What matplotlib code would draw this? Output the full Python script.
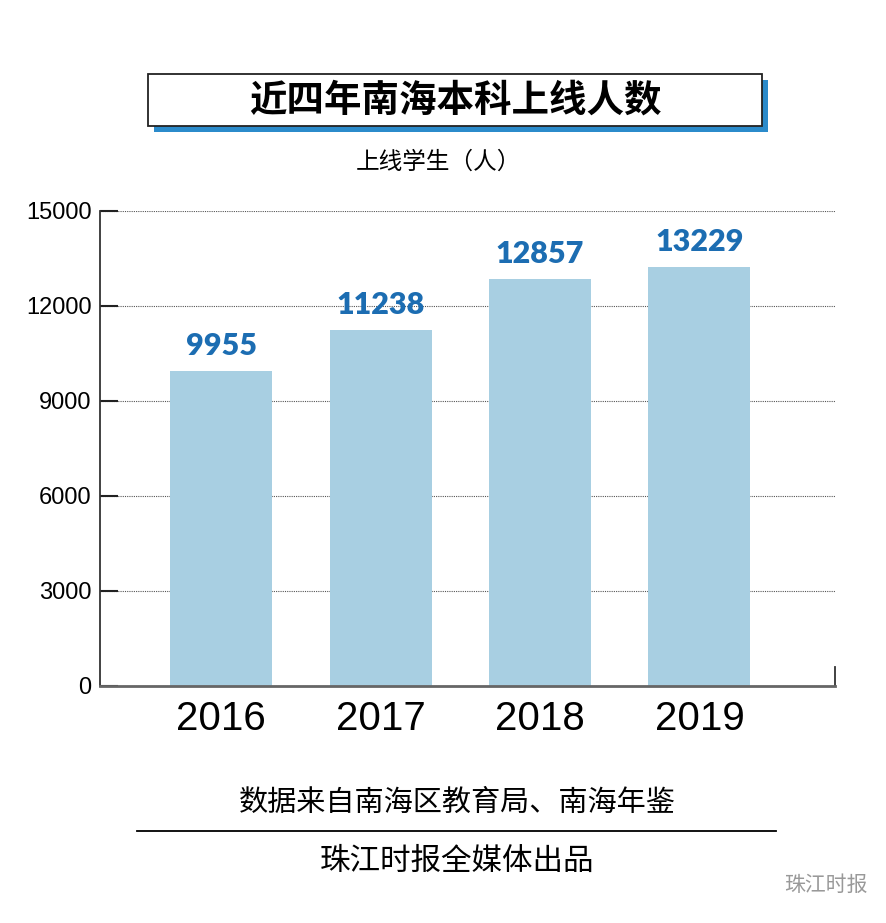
import matplotlib.pyplot as plt
from matplotlib.patches import Rectangle

# 数据
years = ['2016', '2017', '2018', '2019']
counts = [9955, 11238, 12857, 13229]
yticks = [0, 3000, 6000, 9000, 12000, 15000]

plt.rcParams['font.family'] = ['Liberation Sans', 'Noto Sans CJK SC', 'DejaVu Sans']
cjk = ['Noto Sans CJK SC', 'DejaVu Sans']

fig = plt.figure(figsize=(8.86, 9.23), dpi=100)
ax = fig.add_axes([0.1129, 0.2568, 0.8295, 0.5146])

x = range(len(years))
bars = ax.bar(x, counts, width=0.64, color='#a8cfe2', zorder=2)

for b, v in zip(bars, counts):
    ax.annotate(str(v), (b.get_x() + b.get_width() / 2, v),
                xytext=(0, 8), textcoords='offset points',
                ha='center', va='bottom', fontsize=22, fontweight='heavy',
                color='#1c6db2', family=['Lato', 'DejaVu Sans'])

ax.set_xlim(-0.76, 3.85)
ax.set_ylim(0, 15000)
ax.set_yticks(yticks)
ax.set_yticklabels([str(t) for t in yticks], fontsize=17)
ax.set_xticks(list(x))
ax.set_xticklabels(years, fontsize=29)
ax.tick_params(axis='y', direction='in', length=13, width=1.5, color='#222222', pad=6)
ax.tick_params(axis='x', length=0, pad=10)

ax.grid(axis='y', linestyle=(0, (1, 1)), color='#555555', linewidth=0.8, zorder=0)

ax.spines['top'].set_visible(False)
ax.spines['left'].set_color('#333333')
ax.spines['left'].set_linewidth(1.3)
ax.spines['bottom'].set_color('#666666')
ax.spines['bottom'].set_linewidth(2)
ax.spines['right'].set_bounds(0, 600)
ax.spines['right'].set_color('#333333')
ax.spines['right'].set_linewidth(1.3)

# 标题框
W, H = 886, 923
shadow = Rectangle((154 / W, 1 - 132 / H), 614 / W, 52 / H, transform=fig.transFigure,
                   facecolor='#2b8bcb', edgecolor='none', zorder=1)
box = Rectangle((148 / W, 1 - 126 / H), 614 / W, 52 / H, transform=fig.transFigure,
                facecolor='white', edgecolor='#222222', linewidth=1.3, zorder=2)
fig.patches.extend([shadow, box])
fig.text(455 / W, 1 - 100 / H, '近四年南海本科上线人数', ha='center', va='center',
         fontsize=27, fontweight='bold', family=cjk, zorder=3)
fig.text(438 / W, 1 - 162 / H, '上线学生（人）', ha='center', va='center',
         fontsize=17, family=cjk)

# 底部文字
fig.text(457 / W, 1 - 803 / H, '数据来自南海区教育局、南海年鉴', ha='center', va='center',
         fontsize=21, family=cjk)
fig.add_artist(plt.Line2D([137 / W, 776 / W], [1 - 831 / H, 1 - 831 / H],
                          transform=fig.transFigure, color='black', linewidth=1.3))
fig.text(457 / W, 1 - 861 / H, '珠江时报全媒体出品', ha='center', va='center',
         fontsize=22, family=cjk)
fig.text(868 / W, 1 - 885 / H, '珠江时报', ha='right', va='center',
         fontsize=15, color='#999999', family=cjk)

fig.savefig('out.png', dpi=100, facecolor='white')
